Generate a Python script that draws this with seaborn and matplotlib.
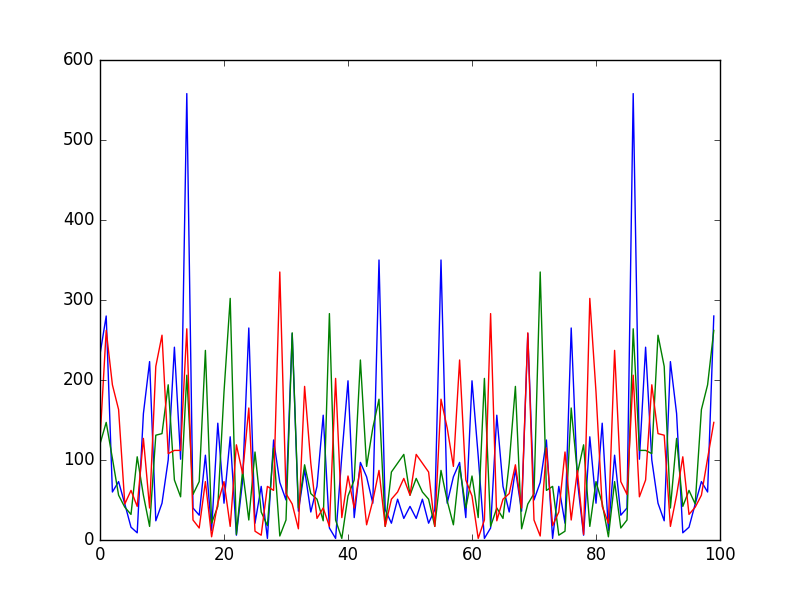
import numpy as np
import pandas as pd
import seaborn as sns
import matplotlib
matplotlib.use("Agg")
import matplotlib.pyplot as plt

x = np.arange(100)

blue = [232, 280, 60, 73, 45, 16, 9, 158, 223, 24,
        46, 100, 241, 101, 558, 40, 31, 106, 12, 146,
        46, 129, 6, 74, 265, 21, 67, 2, 125, 72,
        50, 258, 36, 88, 35, 67, 156, 15, 2, 105,
        199, 28, 97, 79, 46, 350, 38, 21, 51, 27,
        42, 27, 51, 21, 38, 350, 46, 79, 97, 28,
        199, 105, 2, 15, 156, 67, 35, 88, 36, 258,
        50, 72, 125, 2, 67, 21, 265, 74, 6, 129,
        46, 146, 12, 106, 31, 40, 558, 101, 241, 100,
        46, 24, 223, 158, 9, 16, 45, 73, 60, 280]

red = [125, 262, 194, 163, 45, 62, 42, 127, 40, 217,
       256, 108, 112, 112, 264, 25, 15, 73, 4, 46,
       73, 17, 119, 83, 165, 11, 6, 67, 62, 335,
       58, 45, 14, 192, 96, 27, 40, 17, 202, 28,
       80, 40, 92, 19, 49, 87, 17, 51, 60, 77,
       56, 107, 96, 85, 17, 176, 140, 92, 225, 75,
       55, 2, 25, 283, 24, 51, 58, 94, 40, 259,
       25, 5, 115, 18, 35, 110, 25, 87, 7, 302,
       185, 42, 21, 237, 73, 57, 206, 54, 75, 194,
       133, 131, 17, 56, 104, 32, 41, 56, 102, 147]

green = [120, 147, 102, 56, 41, 32, 104, 56, 17, 131,
         133, 194, 75, 54, 206, 57, 73, 237, 21, 42,
         185, 302, 7, 87, 25, 110, 35, 18, 115, 5,
         25, 259, 40, 94, 58, 51, 24, 283, 25, 2,
         55, 75, 225, 92, 140, 176, 17, 85, 96, 107,
         56, 77, 60, 51, 17, 87, 49, 19, 92, 40,
         80, 28, 202, 17, 40, 27, 96, 192, 14, 45,
         58, 335, 62, 67, 6, 11, 165, 83, 119, 17,
         73, 46, 4, 73, 15, 25, 264, 112, 112, 108,
         256, 217, 40, 127, 42, 62, 45, 163, 194, 262]

plt.style.use("classic")
plt.rcParams["figure.facecolor"] = "white"
plt.rcParams["savefig.facecolor"] = "white"

fig, ax = plt.subplots(figsize=(8, 6), dpi=100)
sns.lineplot(x=x, y=blue, color="b", lw=1, ax=ax)
sns.lineplot(x=x, y=green, color="g", lw=1, ax=ax)
sns.lineplot(x=x, y=red, color="r", lw=1, ax=ax)

ax.set_xlim(0, 100)
ax.set_ylim(0, 600)

fig.savefig("out.png", dpi=100)
